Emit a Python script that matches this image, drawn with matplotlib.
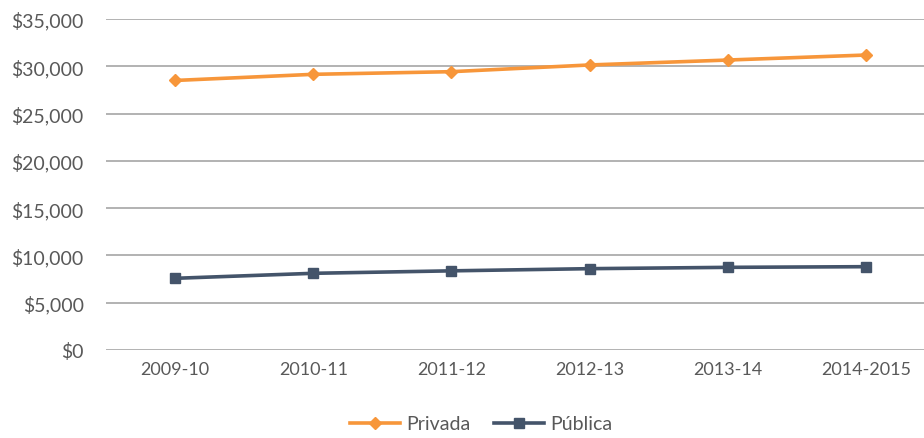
import matplotlib
matplotlib.use("Agg")
import matplotlib.pyplot as plt
from matplotlib.ticker import FuncFormatter

categories = ["2009-10", "2010-11", "2011-12", "2012-13", "2013-14", "2014-2015"]
privada = [28500, 29150, 29430, 30140, 30660, 31190]
publica = [7580, 8110, 8370, 8600, 8740, 8810]
yticks = [0, 5000, 10000, 15000, 20000, 25000, 30000, 35000]

plt.rcParams['font.family'] = ['Lato', 'DejaVu Sans']
text_color = '#595959'

fig = plt.figure(figsize=(9.24, 4.39), dpi=100)
ax = fig.add_axes([106/924, 1-351/439, (935-106)/924, (351-20)/439])

x = list(range(len(categories)))
ax.plot(x, privada, color='#F7963A', lw=2.6, marker='D', ms=6, label='Privada', clip_on=False)
ax.plot(x, publica, color='#44546A', lw=2.6, marker='s', ms=7, label='Pública', clip_on=False)

ax.set_xlim(-0.5, 5.5)
ax.set_ylim(0, 35000)
ax.set_yticks(yticks)
ax.yaxis.set_major_formatter(FuncFormatter(lambda v, p: f"${int(v):,}"))
ax.set_xticks(x)
ax.set_xticklabels(categories)
ax.grid(axis='y', color='#A6A6A6', lw=1.2)
ax.set_axisbelow(True)
for s in ax.spines.values():
    s.set_visible(False)
ax.tick_params(axis='x', length=0, labelsize=13, colors=text_color, pad=8)
ax.tick_params(axis='y', length=0, labelsize=14, colors=text_color, pad=16)

leg = fig.legend(loc='center', bbox_to_anchor=(481/924, 1-425/439), ncol=2, frameon=False,
                 fontsize=14, handlelength=2.6, columnspacing=1.2, handletextpad=0.3)
for t in leg.get_texts():
    t.set_color(text_color)

fig.savefig("out.png", dpi=100)
